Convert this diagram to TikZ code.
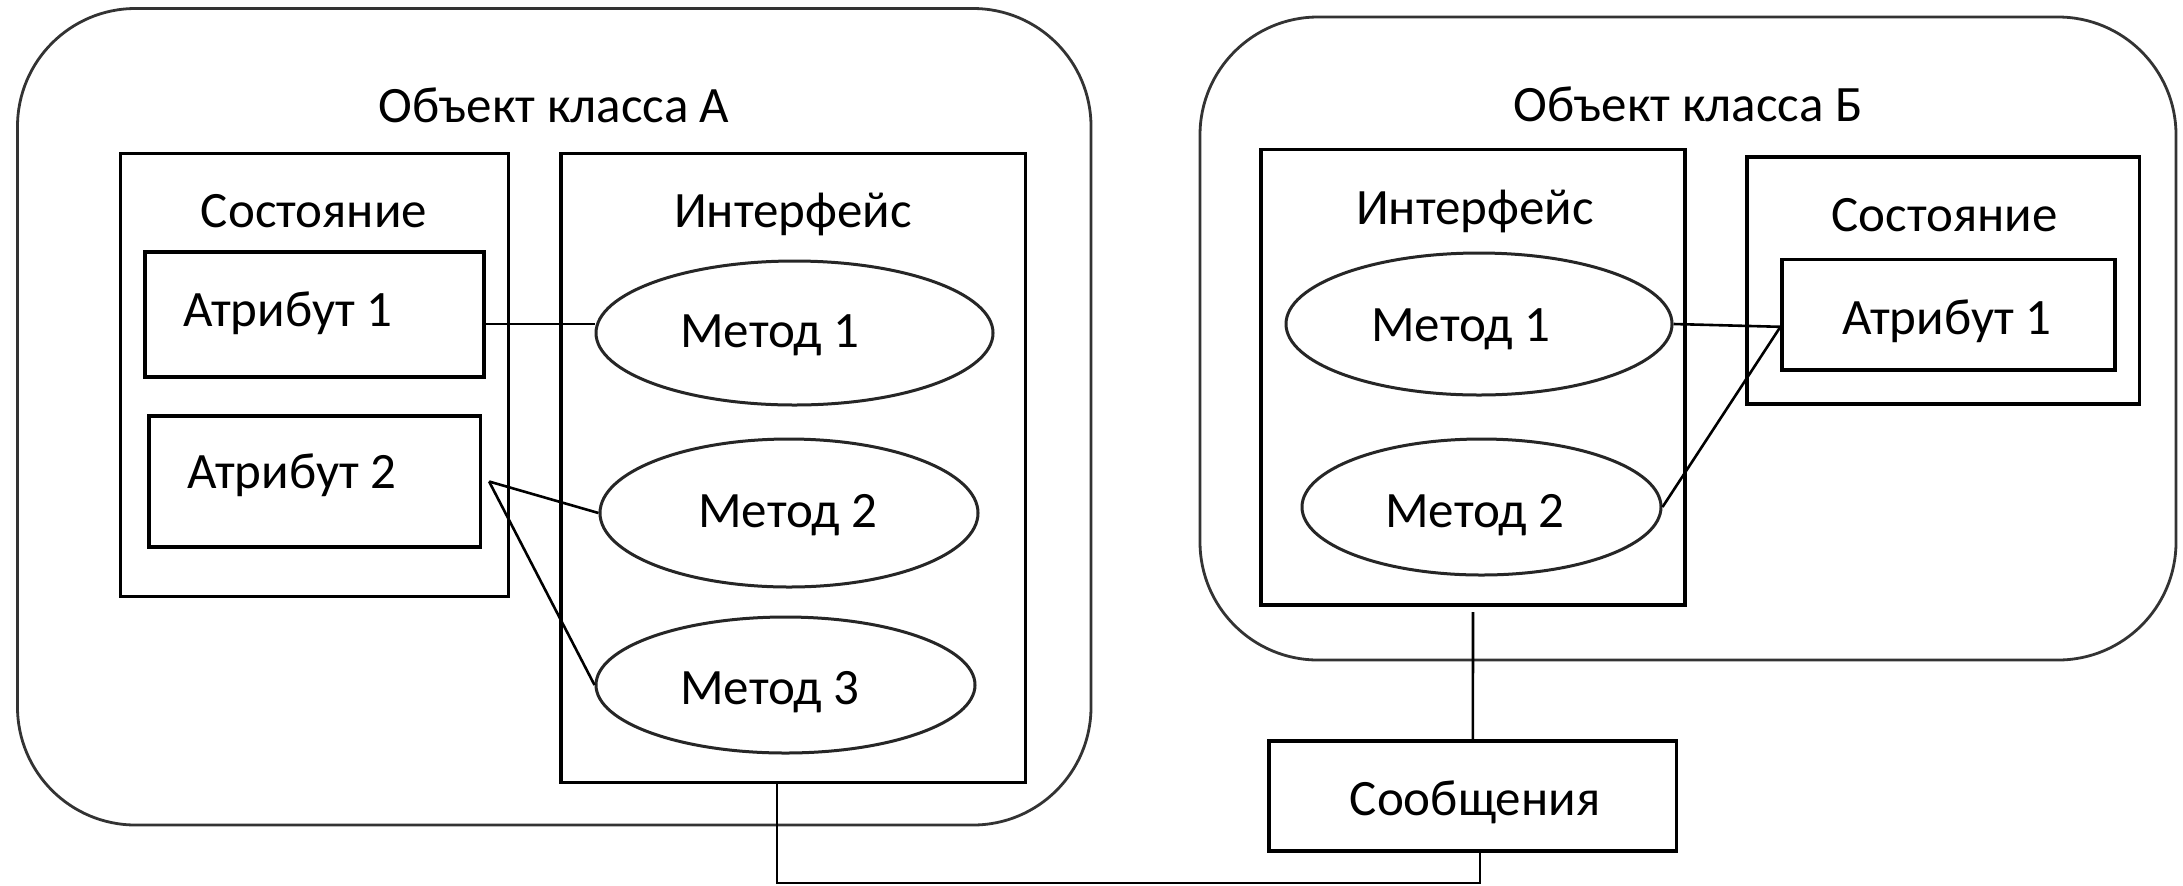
\documentclass[tikz,border=0pt]{standalone}
\usepackage{fontspec}
\setmainfont{Carlito}
\usetikzlibrary{fit,shapes.geometric}
\begin{document}
\begin{tikzpicture}[x=0.5pt,y=-0.5pt,
  every node/.style={font=\fontsize{25.5}{30}\selectfont},
  frame/.style={draw=black!80, line width=1.4pt, rounded corners=59pt, inner sep=0pt},
  box/.style={draw, line width=1.6pt, inner sep=0pt},
  meth/.style={draw=black!85, ellipse, line width=1.5pt, inner sep=0pt},
  link/.style={line width=1.3pt},
  lbl/.style={anchor=base, inner sep=0pt}]
\fill[white] (0,0) rectangle (2183,885);
\useasboundingbox (0,0) rectangle (2183,885);

% ---- object of class A ----
\node[frame, fit={(17.5,8.5) (1091,825)}] (objA) {};
\node[box, fit={(120.7,153.5) (508.6,596.5)}] (stA) {};
\node[box, fit={(145,252) (484,377)}] (atA1) {};
\node[box, fit={(149,416) (480.5,547)}] (atA2) {};
\node[box, fit={(561,153.5) (1025.6,782.7)}] (ifA) {};
\node[meth, minimum width=198.5pt, minimum height=72pt] (mA1) at (794.5,333) {};
\node[meth, minimum width=189pt, minimum height=74pt] (mA2) at (789,513) {};
\node[meth, minimum width=189.5pt, minimum height=68pt] (mA3) at (785.5,685) {};

\node[lbl] (tA)   at (554,122) {Объект класса А};
\node[lbl] (tstA) at (314,227) {Состояние};
\node[lbl] (tifA) at (793,227) {Интерфейс};
\node[lbl] (ta1A) at (288,326) {Атрибут 1};
\node[lbl] (ta2A) at (292,488) {Атрибут 2};
\node[lbl] (tm1A) at (770,347) {Метод 1};
\node[lbl] (tm2A) at (788,527) {Метод 2};
\node[lbl] (tm3A) at (770,704) {Метод 3};

% ---- object of class B ----
\node[frame, fit={(1200,17) (2176,660)}] (objB) {};
\node[box, fit={(1261,149.5) (1685,605)}] (ifB) {};
\node[meth, minimum width=193pt, minimum height=71pt] (mB1) at (1479,324) {};
\node[meth, minimum width=179.5pt, minimum height=68pt] (mB2) at (1481.5,507) {};
\node[box, fit={(1747,157) (2139.5,404)}] (stB) {};
\node[box, fit={(1782,259.6) (2115,370)}] (atB1) {};

\node[lbl] (tB)   at (1688,121) {Объект класса Б};
\node[lbl] (tifB) at (1475,224) {Интерфейс};
\node[lbl] (tstB) at (1944.5,231) {Состояние};
\node[lbl] (ta1B) at (1947,334) {Атрибут 1};
\node[lbl] (tm1B) at (1461,341) {Метод 1};
\node[lbl] (tm2B) at (1475,527) {Метод 2};

% ---- messages ----
\node[box, fit={(1269,741) (1676.7,851)}] (msg) {};
\node[lbl] (tmsg) at (1475,815) {Сообщения};

% ---- links ----
\draw[link] ([yshift=-4.75pt]atA1.east) -- ([yshift=4.5pt]mA1.west);
\draw[link] ([xshift=3.5pt]atA2.east) -- (mA2.west);
\draw[link] ([xshift=3.5pt]atA2.east) -- (mA3.west);
\coordinate (jB) at ([yshift=-6pt]atB1.west);
\draw[link] (mB1.east) -- (jB);
\draw[link] (mB2.east) -- (jB);
\draw[link] ([yshift=-2.8pt]ifB.south) -- (msg.north);
\draw[link] ([xshift=-8.2pt]ifA.south) -- ++(0,98.5) -| ([xshift=3.5pt]msg.south);
\end{tikzpicture}
\end{document}
